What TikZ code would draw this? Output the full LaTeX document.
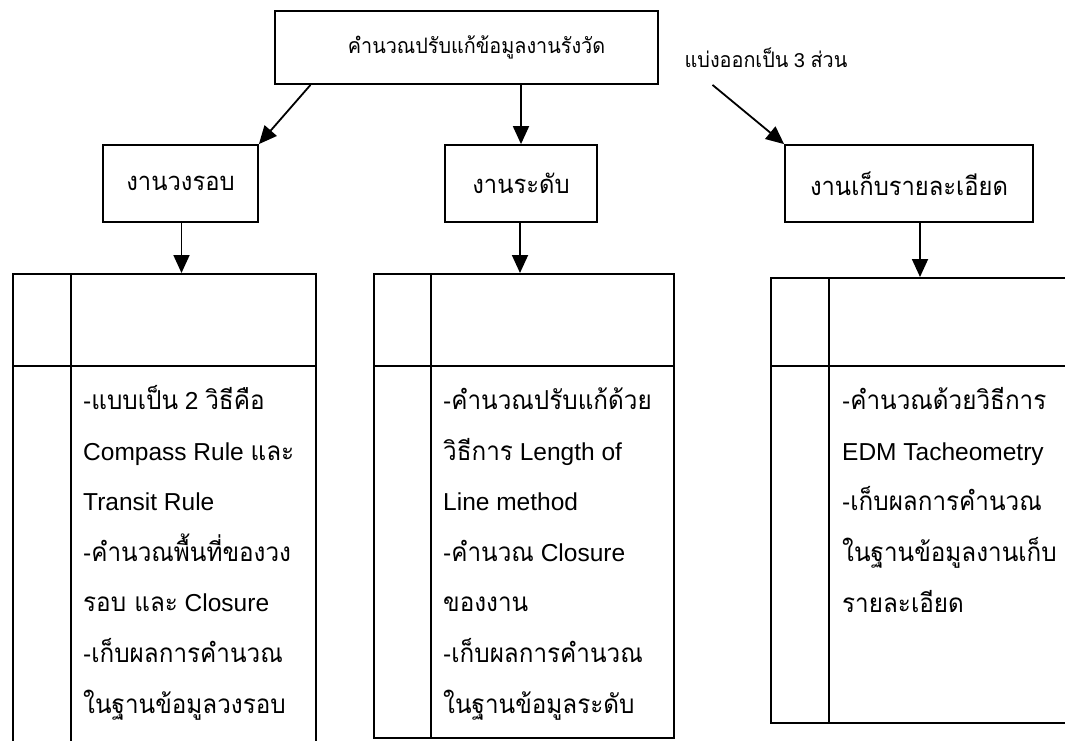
\documentclass[tikz,border=0pt]{standalone}
\usepackage{fontspec}
\setmainfont{Liberation Sans}
\newfontfamily\thfont[Script=Thai,Scale=1.065,FakeStretch=0.93]{Loma}
\newcommand{\tx}[1]{{\thfont #1}}
\usetikzlibrary{arrows.meta}
\begin{document}
\begin{tikzpicture}[x=1pt,y=-1pt,
  box/.style={draw, line width=1.8pt, inner sep=0pt},
  ln/.style={line width=1.8pt},
  arr/.style={line width=1.8pt, -{Triangle[length=18pt,width=16pt]}},
  lbl/.style={font=\fontsize{24}{28}\selectfont},
  small/.style={font=\fontsize{20}{24}\selectfont},
  body/.style={anchor=base west, align=left, inner sep=0pt, font=\fontsize{24.5}{50.6}\selectfont}]
\useasboundingbox (0,0) rectangle (1065,740);
\clip (0,0) rectangle (1065,740);
% top
\node[box, small, minimum width=383pt, minimum height=73pt] (top) at (466.5,47.5) {\hspace*{20pt}\tx{คำนวณปรับแก้ข้อมูลงานรังวัด}};
\node[small] (note) at (766,58) {\tx{แบ่งออกเป็น} 3 \tx{ส่วน}};
% second row
\node[box, lbl, minimum width=155pt, minimum height=77pt] (n1) at (180.5,183.5) {\tx{งานวงรอบ}};
\node[box, lbl, minimum width=152pt, minimum height=77pt] (n2) at (521,183.5) {\tx{งานระดับ}};
\node[box, lbl, minimum width=248pt, minimum height=77pt] (n3) at (909,183.5) {\tx{งานเก็บรายละเอียด}};
\draw[arr] ([xshift=-156pt]top.south) -- (n1.north east);
\draw[arr] (n2.north |- top.south) -- (n2.north);
\draw[arr] ([xshift=246pt]top.south) -- (n3.north west);
% tables
\node[box, minimum width=303pt, minimum height=472pt, anchor=north west] (b1) at (12,273) {};
\node[box, minimum width=300pt, minimum height=464pt, anchor=north west] (b2) at (373,273) {};
\node[box, minimum width=310pt, minimum height=445pt, anchor=north west] (b3) at (770,277) {};
\draw[ln] ([xshift=59pt]b1.north west) -- ([xshift=59pt]b1.south west);
\draw[ln] ([yshift=-93pt]b1.north west) -- ([yshift=-93pt]b1.north east);
\draw[ln] ([xshift=58pt]b2.north west) -- ([xshift=58pt]b2.south west);
\draw[ln] ([yshift=-93pt]b2.north west) -- ([yshift=-93pt]b2.north east);
\draw[ln] ([xshift=59pt]b3.north west) -- ([xshift=59pt]b3.south west);
\draw[ln] ([yshift=-89pt]b3.north west) -- ([yshift=-89pt]b3.north east);
\draw[arr] ([xshift=1pt]n1.south) -- ([xshift=1pt]n1.south |- b1.north);
\draw[arr] ([xshift=-1pt]n2.south) -- ([xshift=-1pt]n2.south |- b2.north);
\draw[arr] ([xshift=11pt]n3.south) -- ([xshift=11pt]n3.south |- b3.north);
% texts (base anchor = last line)
\node[body] (t1) at (83,713) {-\tx{แบบเป็น} 2 \tx{วิธีคือ}\\
Compass Rule \tx{และ}\\
Transit Rule\\
-\tx{คำนวณพื้นที่ของวง}\\
\tx{รอบ และ} Closure\\
-\tx{เก็บผลการคำนวณ}\\
\tx{ในฐานข้อมูลวงรอบ}};
\node[body] (t2) at (443,713) {-\tx{คำนวณปรับแก้ด้วย}\\
\tx{วิธีการ} Length of\\
Line method\\
-\tx{คำนวณ} Closure\\
\tx{ของงาน}\\
-\tx{เก็บผลการคำนวณ}\\
\tx{ในฐานข้อมูลระดับ}};
\node[body] (t3) at (842,612) {-\tx{คำนวณด้วยวิธีการ}\\
EDM Tacheometry\\
-\tx{เก็บผลการคำนวณ}\\
\tx{ในฐานข้อมูลงานเก็บ}\\
\tx{รายละเอียด}};
\end{tikzpicture}
\end{document}
